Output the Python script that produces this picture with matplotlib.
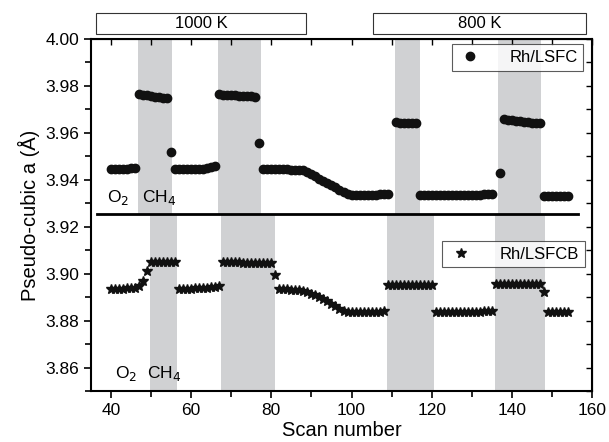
import numpy as np
import matplotlib.pyplot as plt
from matplotlib.patches import Rectangle
from matplotlib.ticker import MultipleLocator

plt.rcParams['font.family'] = ['Liberation Sans', 'DejaVu Sans']

# Rh/LSFC (upper panel), scan numbers and lattice parameter
lsfc_scan = list(range(40, 47)) + list(range(47, 55)) + [55] + list(range(56, 67)) \
    + list(range(67, 77)) + [77] + list(range(78, 110)) + list(range(111, 117)) \
    + list(range(117, 136)) + [137] + list(range(138, 148)) + list(range(148, 155))
lsfc_a = [3.9448, 3.9447, 3.9447, 3.9448, 3.9448, 3.9450, 3.9452,
          3.9765, 3.9763, 3.9760, 3.9757, 3.9754, 3.9752, 3.9749, 3.9747,
          3.9520,
          3.9445, 3.9445, 3.9444, 3.9444, 3.9445, 3.9445, 3.9446, 3.9447, 3.9450, 3.9455, 3.9458,
          3.9764, 3.9763, 3.9762, 3.9761, 3.9760, 3.9759, 3.9758, 3.9757, 3.9756, 3.9754,
          3.9555,
          3.9447, 3.9445, 3.9444, 3.9444, 3.9444, 3.9444, 3.9444, 3.9443, 3.9443, 3.9442, 3.9440,
          3.9432, 3.9424, 3.9415, 3.9405, 3.9396, 3.9387, 3.9378, 3.9368, 3.9358, 3.9348, 3.9340,
          3.9336, 3.9335, 3.9335, 3.9335, 3.9336, 3.9336, 3.9337, 3.9338, 3.9339, 3.9340,
          3.9645, 3.9643, 3.9641, 3.9640, 3.9641, 3.9642,
          3.9337, 3.9336, 3.9335, 3.9335, 3.9335, 3.9335, 3.9336, 3.9336, 3.9336, 3.9336,
          3.9336, 3.9336, 3.9337, 3.9337, 3.9337, 3.9337, 3.9338, 3.9338, 3.9338,
          3.9427,
          3.9658, 3.9655, 3.9653, 3.9651, 3.9649, 3.9647, 3.9645, 3.9644, 3.9643, 3.9642,
          3.9333, 3.9332, 3.9332, 3.9331, 3.9331, 3.9331, 3.9332]

# Rh/LSFCB (lower panel)
lsfcb_scan = list(range(40, 48)) + [48, 49] + list(range(50, 57)) + list(range(57, 68)) \
    + list(range(68, 81)) + [81] + list(range(82, 109)) + list(range(109, 121)) \
    + list(range(121, 136)) + list(range(136, 148)) + [148] + list(range(149, 155))
lsfcb_a = [3.8935, 3.8935, 3.8935, 3.8936, 3.8937, 3.8938, 3.8941, 3.8948,
           3.8968, 3.9010,
           3.9051, 3.9051, 3.9050, 3.9050, 3.9050, 3.9050, 3.9050,
           3.8935, 3.8935, 3.8936, 3.8936, 3.8937, 3.8938, 3.8939, 3.8940, 3.8942, 3.8944, 3.8947,
           3.9050, 3.9049, 3.9049, 3.9048, 3.9048, 3.9047, 3.9047, 3.9046, 3.9046, 3.9046,
           3.9045, 3.9045, 3.9044,
           3.8993,
           3.8933, 3.8933, 3.8933, 3.8932, 3.8931, 3.8929, 3.8926,
           3.8921, 3.8915, 3.8908, 3.8901, 3.8893, 3.8883, 3.8872, 3.8861, 3.8850, 3.8840,
           3.8836, 3.8836, 3.8836, 3.8836, 3.8836, 3.8837, 3.8837, 3.8838, 3.8838, 3.8839,
           3.8953, 3.8953, 3.8953, 3.8953, 3.8953, 3.8953, 3.8953, 3.8953, 3.8953, 3.8953,
           3.8953, 3.8953,
           3.8838, 3.8838, 3.8838, 3.8838, 3.8838, 3.8838, 3.8838, 3.8838, 3.8838, 3.8838,
           3.8838, 3.8838, 3.8839, 3.8839, 3.8839,
           3.8955, 3.8955, 3.8955, 3.8955, 3.8955, 3.8954, 3.8954, 3.8954, 3.8954, 3.8954,
           3.8954, 3.8954,
           3.8922,
           3.8838, 3.8838, 3.8838, 3.8838, 3.8838, 3.8838]

# CH4 exposure windows (scan ranges)
bands_upper = [(46.8, 55.2), (66.8, 77.4), (110.75, 117.0), (136.6, 147.25)]
bands_lower = [(49.6, 56.4), (67.5, 81.0), (108.75, 120.6), (135.75, 148.25)]
split_a = 3.9256

fig = plt.figure(figsize=(6.09, 4.42), dpi=100)
ax = fig.add_axes([0.1494, 0.1154, 0.8227, 0.7964])

for x0, x1 in bands_upper:
    ax.fill_between([x0, x1], split_a, 4.0, color='#d0d1d3', lw=0, zorder=0)
for x0, x1 in bands_lower:
    ax.fill_between([x0, x1], 3.85, split_a, color='#d0d1d3', lw=0, zorder=0)

ax.plot([36.4, 156.5], [split_a, split_a], color='black', lw=2, zorder=2)

l1, = ax.plot(lsfc_scan, lsfc_a, 'o', color='#111111', ms=6, ls='none', zorder=3, label='Rh/LSFC')
l2, = ax.plot(lsfcb_scan, lsfcb_a, '*', color='#111111', ms=7.5, ls='none', zorder=3, label='Rh/LSFCB')

leg1 = ax.legend(handles=[l1], loc='upper right', bbox_to_anchor=(0.983, 0.986),
                 frameon=True, fancybox=False, edgecolor='#333333', fontsize=12,
                 handletextpad=1.6, borderpad=0.35, handlelength=1.5, borderaxespad=0)
leg1.get_frame().set_linewidth(0.8)
ax.add_artist(leg1)
leg2 = ax.legend(handles=[l2], loc='upper right', bbox_to_anchor=(0.986, 0.427),
                 frameon=True, fancybox=False, edgecolor='#333333', fontsize=12,
                 handletextpad=1.6, borderpad=0.35, handlelength=1.5, borderaxespad=0)
leg2.get_frame().set_linewidth(0.8)

ax.text(38.9, 3.9305, 'O$_2$', fontsize=12.5)
ax.text(47.7, 3.9305, 'CH$_4$', fontsize=12.5)
ax.text(41.0, 3.8555, 'O$_2$', fontsize=12.5)
ax.text(49.0, 3.8555, 'CH$_4$', fontsize=12.5)

# temperature boxes above the axes
for (x0, x1), lab in zip([(36.25, 88.75), (105.25, 158.5)], ['1000 K', '800 K']):
    r = Rectangle((x0, 1.0142), x1 - x0, 0.0597, transform=ax.get_xaxis_transform(),
                  fill=False, ec='#333333', lw=0.8, clip_on=False)
    ax.add_patch(r)
    ax.text((x0 + x1) / 2, 1.045, lab, transform=ax.get_xaxis_transform(),
            ha='center', va='center', fontsize=12)

ax.set_xlim(35, 160)
ax.set_ylim(3.85, 4.00)
ax.xaxis.set_major_locator(MultipleLocator(20))
ax.xaxis.set_minor_locator(MultipleLocator(10))
ax.yaxis.set_major_locator(MultipleLocator(0.02))
ax.yaxis.set_minor_locator(MultipleLocator(0.01))
ax.yaxis.set_major_formatter(plt.FormatStrFormatter('%.2f'))
ax.tick_params(which='both', direction='out', labelsize=12.5, width=1.2)
ax.tick_params(which='major', length=5)
ax.tick_params(which='minor', length=4)
for s in ax.spines.values():
    s.set_linewidth(1.5)

top = ax.secondary_xaxis('top')
top.xaxis.set_major_locator(MultipleLocator(10))
top.tick_params(direction='in', length=4, width=1.0, labeltop=False)
right = ax.secondary_yaxis('right')
right.yaxis.set_major_locator(MultipleLocator(0.01))
right.tick_params(direction='in', length=4, width=1.0, labelright=False)

ax.set_xlabel('Scan number', fontsize=14.5, labelpad=2)
ax.set_ylabel('Pseudo-cubic a (Å)', fontsize=14.5, labelpad=4)

fig.savefig('out.png', dpi=100)
